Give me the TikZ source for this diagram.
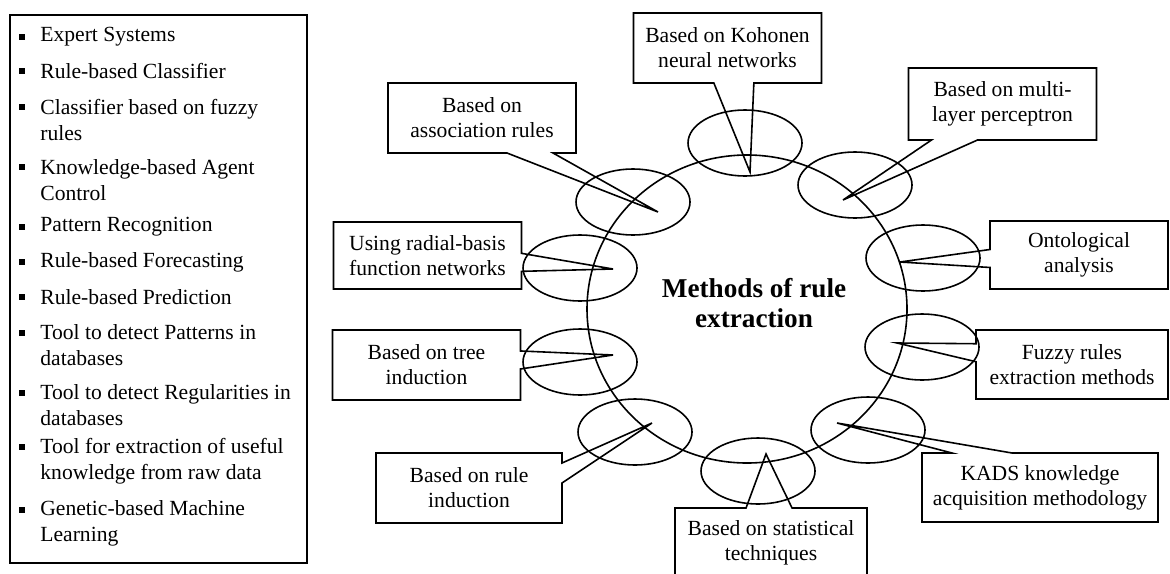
\documentclass[tikz,border=0pt]{standalone}
\usepackage{fontspec}
\setmainfont{Liberation Serif}
\usetikzlibrary{shapes,shapes.callouts,positioning}

\tikzset{
  method/.style={rectangle callout, draw, line width=0.8pt, align=center, inner sep=2pt,
    font=\fontsize{10.8}{12.5}\selectfont, minimum width=94pt, minimum height=35pt,
    callout pointer width=23pt},
  sidemethod/.style={method, callout pointer width=9pt},
  blob/.style={ellipse, draw, line width=0.8pt, minimum width=57pt, minimum height=33pt, inner sep=0pt},
  entry/.style={anchor=west, align=left, inner sep=0pt, font=\fontsize{10.8}{13}\selectfont},
  dot/.style={rectangle, fill, inner sep=0pt, minimum size=2.6pt},
}

\begin{document}
\begin{tikzpicture}[x=0.5pt, y=-0.5pt]
    \useasboundingbox (0,0) rectangle (1170,573);

    % Applications panel
    \node[draw, line width=0.8pt, minimum width=148.5pt, minimum height=274pt, inner sep=0pt] (panel) at (158.5,289) {};
    \foreach \yb/\yc/\txt [count=\i] in {
        37/37/{Expert Systems},
        71/71/{Rule-based Classifier},
        107/120/{Classifier based on fuzzy\\rules},
        167/180/{Knowledge-based Agent\\Control},
        227/227/{Pattern Recognition},
        262/262/{Rule-based Forecasting},
        297/297/{Rule-based Prediction},
        333/345/{Tool to detect Patterns in\\databases},
        393/405/{Tool to detect Regularities in\\databases},
        447/461/{Tool for extraction of useful\\knowledge from raw data},
        510/523/{Genetic-based Machine\\Learning}} {
        \node[dot] (dot\i) at (22,\yb) {};
        \node[entry] (entry\i) at (40,\yc) {\txt};
    }

    % Small ellipses round the ring
    \node[blob] (blob1) at (633,202) {};
    \node[blob] (blob2) at (745,143) {};
    \node[blob] (blob3) at (855,185) {};
    \node[blob] (blob4) at (923,258) {};
    \node[blob] (blob5) at (922,347) {};
    \node[blob] (blob6) at (868,430) {};
    \node[blob] (blob7) at (758,471) {};
    \node[blob] (blob8) at (635,432) {};
    \node[blob] (blob9) at (580,362) {};
    \node[blob] (blob10) at (580,268) {};

    % Ring and title
    \node[ellipse, draw, line width=0.8pt, minimum width=160pt, minimum height=154pt, inner sep=0pt] (ring) at (747,309) {};
    \node[font=\fontsize{13.6}{15}\selectfont\bfseries, align=center] (topic) at (754,303) {Methods of rule\\extraction};

    % Pointer tips
    \coordinate (tip1) at (658,212);
    \coordinate (tip2) at (750,172);
    \coordinate (tip3) at (843,200);
    \coordinate (tip4) at (900,262);
    \coordinate (tip5) at (897,343);
    \coordinate (tip6) at (837,423);
    \coordinate (tip7) at (766,454);
    \coordinate (tip8) at (652,423);
    \coordinate (tip9) at (613,355);
    \coordinate (tip10) at (613,269);

    % Callouts
    \node[method, callout absolute pointer={(tip1)}] (assoc) at (482,118) {Based on\\association rules};
    \node[method, callout pointer width=20pt, callout absolute pointer={(tip2)}] (kohonen) at (727.5,48) {Based on Kohonen\\neural networks};
    \node[method, minimum height=36pt, callout absolute pointer={(tip3)}] (mlp) at (1002.5,104) {Based on multi-\\layer perceptron};
    \node[sidemethod, minimum width=89pt, minimum height=34pt, callout absolute pointer={(tip4)}] (onto) at (1079,255) {Ontological\\analysis};
    \node[sidemethod, minimum width=96pt, minimum height=34.5pt, callout absolute pointer={(tip5)}] (fuzzy) at (1072,364.5) {Fuzzy rules\\extraction methods};
    \node[method, callout pointer width=30pt, minimum width=118pt, minimum height=34.5pt, callout absolute pointer={(tip6)}] (kads) at (1040,487.5) {KADS knowledge\\acquisition methodology};
    \node[method, minimum width=96pt, callout absolute pointer={(tip7)}] (stat) at (771,543) {Based on statistical\\techniques};
    \node[sidemethod, callout pointer width=10pt, minimum width=93pt, callout absolute pointer={(tip8)}] (ruleind) at (469,488) {Based on rule\\induction};
    \node[sidemethod, callout absolute pointer={(tip9)}] (tree) at (426.5,365) {Based on tree\\induction};
    \node[sidemethod, minimum height=33.5pt, callout absolute pointer={(tip10)}] (radial) at (427.5,255.5) {Using radial-basis\\function networks};
\end{tikzpicture}
\end{document}
